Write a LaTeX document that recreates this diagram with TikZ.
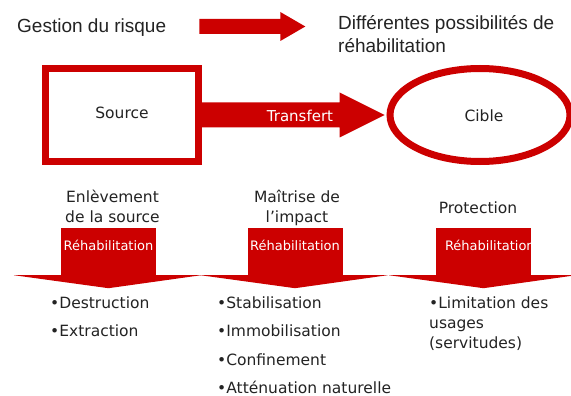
\documentclass[tikz,border=0pt]{standalone}
\usepackage{fontspec}
\setmainfont{DejaVu Sans}
\newfontfamily\arialf{Liberation Sans}
\usetikzlibrary{calc,shapes.geometric}
\definecolor{rred}{RGB}{204,0,0}
\definecolor{txt}{RGB}{35,35,35}
\begin{document}
\begin{tikzpicture}[x=1pt,y=-1pt,
  toptext/.style={font=\arialf\fontsize{19}{23}\selectfont, text=txt, inner sep=0pt, align=left},
  bigbox/.style={draw=rred, line width=7pt, minimum width=153pt, minimum height=93pt, inner sep=0pt},
  bigell/.style={ellipse, draw=rred, line width=7pt, minimum width=180pt, minimum height=93pt, inner sep=0pt},
  midtext/.style={font=\fontsize{15.5}{19}\selectfont, text=txt, inner sep=0pt},
  transtext/.style={font=\fontsize{15}{18}\selectfont, text=white, inner sep=0pt},
  headtext/.style={font=\fontsize{15.5}{20}\selectfont, text=txt, inner sep=0pt, align=center},
  rehabbox/.style={fill=rred, minimum width=95pt, minimum height=47pt, inner sep=0pt},
  rehabtext/.style={font=\fontsize{13}{15}\selectfont, text=white, inner sep=0pt},
  listtext/.style={font=\fontsize{15.5}{28.5}\selectfont, text=txt, inner sep=0pt, align=left},
]
\useasboundingbox[fill=white] (0,0) rectangle (571,396);

% top line (base anchor of a multi-line node = last line's baseline)
\node[toptext, anchor=base west] (gestion) at (17,33) {Gestion du risque};
\node[toptext, anchor=base west] (diff) at (338,53) {Différentes possibilités de\\réhabilitation};
\coordinate (ta) at ($(gestion.base east)+(33,-6.5)$);
\coordinate (tbx) at ($(gestion.base east)+(139,0)$);
\coordinate (tb) at (ta -| tbx);
\fill[rred] ($(ta)+(0,-7.5)$) -- ($(tb)+(-25,-7.5)$) -- ($(tb)+(-25,-14.5)$) -- (tb)
  -- ($(tb)+(-25,14.5)$) -- ($(tb)+(-25,7.5)$) -- ($(ta)+(0,7.5)$) -- cycle;

% source / cible
\node[bigbox] (source) at (122,115) {};
\node[midtext] (sourcet) at (122,113) {Source};
\node[bigell] (cible) at (480,115) {};
\node[midtext] (ciblet) at (484,116) {Cible};
\fill[rred] ($(source.east)+(0,-12.5)$) -- ($(cible.west)+(-47,-12.5)$) -- ($(cible.west)+(-47,-22.5)$)
  -- ($(cible.west)+(-2,0)$) -- ($(cible.west)+(-47,22.5)$) -- ($(cible.west)+(-47,12.5)$)
  -- ($(source.east)+(0,12.5)$) -- cycle;
\node[transtext] (transfert) at (300,116) {Transfert};

% headings
\node[headtext, anchor=base] (h1) at (112.5,222.5) {Enlèvement\\de la source};
\node[headtext, anchor=base] (h2) at (297,222.5) {Maîtrise de\\l’impact};
\node[headtext, anchor=base] (h3) at (478,213) {Protection};

% rehabilitation arrows
\foreach \n/\cx in {b1/108.5, b2/295, b3/483.5}{
  \node[rehabbox] (\n) at (\cx,251.5) {};
  \fill[rred] ($(\n.south west)+(-47,0)$) -- ($(\n.south east)+(45,0)$) -- ($(\n.south)+(0,13)$) -- cycle;
}
\node[rehabtext] (r1) at ([yshift=6.5pt]b1.center) {Réhabilitation};
\node[rehabtext] (r2) at ([yshift=6.5pt]b2.center) {Réhabilitation};
\node[rehabtext, anchor=west] (r3) at ([xshift=9pt,yshift=6.5pt]b3.west) {Réhabilitation};

% lists
\node[listtext, anchor=base west] (l1) at (50,336.5) {•Destruction\\•Extraction};
\node[listtext, anchor=base west] (l2) at (217,393.5) {•Stabilisation\\•Immobilisation\\•Confinement\\•Atténuation naturelle};
\node[listtext, anchor=base west, font=\fontsize{15.5}{20}\selectfont] (l3) at (429,348) {•Limitation des\\usages\\(servitudes)};
\end{tikzpicture}
\end{document}
